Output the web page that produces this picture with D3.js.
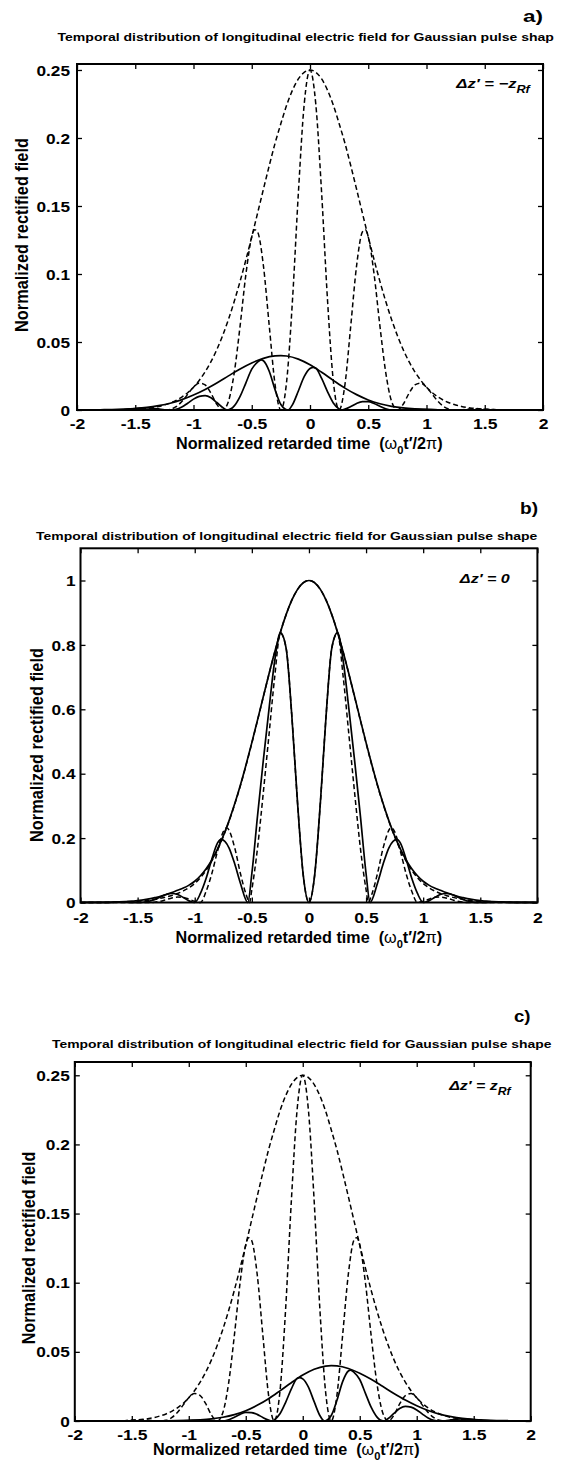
<!DOCTYPE html>
<html>
<head>
<meta charset="utf-8">
<script src="https://cdn.jsdelivr.net/npm/d3@7"></script>
<style>
  body { margin: 0; background: #fff; }
  svg text { font-family: "Liberation Sans", Arial, Helvetica, sans-serif; font-weight: bold; fill: #000; }
</style>
</head>
<body>
<svg id="fig" width="564" height="1463"></svg>
<script>
// ---- values: [normalized time, field] ----
var xTicks = [-2, -1.5, -1, -0.5, 0, 0.5, 1, 1.5, 2];
var xTickLabels = ["-2", "-1.5", "-1", "-0.5", "0", "0.5", "1", "1.5", "2"];
var yTicksSmall = [0, 0.05, 0.1, 0.15, 0.2, 0.25];
var yTickLabelsSmall = ["0", "0.05", "0.1", "0.15", "0.2", "0.25"];
var yTicksB = [0, 0.2, 0.4, 0.6, 0.8, 1];
var yTickLabelsB = ["0", "0.2", "0.4", "0.6", "0.8", "1"];

var titleText = "Temporal distribution of longitudinal electric field for Gaussian pulse shape";
var titleCut = "Temporal distribution of longitudinal electric field for Gaussian pulse shap";

// panel a) dz' = -zRf
var aDashEnv = [[-2,0],[-1.7,0.0001],[-1.6,0.0002],[-1.5,0.0006],[-1.45,0.0009],[-1.4,0.0013],[-1.35,0.0018],[-1.3,0.0026],[-1.25,0.0037],[-1.2,0.0051],[-1.15,0.0070],[-1.1,0.0095],[-1.05,0.0127],[-1,0.0168],[-0.95,0.0219],[-0.9,0.0281],[-0.85,0.0355],[-0.8,0.0444],[-0.75,0.0547],[-0.7,0.0666],[-0.65,0.0799],[-0.6,0.0946],[-0.55,0.1105],[-0.5,0.1273],[-0.45,0.1447],[-0.4,0.1623],[-0.35,0.1796],[-0.3,0.1961],[-0.25,0.2106],[-0.2,0.2242],[-0.15,0.2352],[-0.1,0.2434],[-0.05,0.2483],[0,0.25],[0.05,0.2483],[0.1,0.2434],[0.15,0.2352],[0.2,0.2242],[0.25,0.2106],[0.3,0.1961],[0.35,0.1796],[0.4,0.1623],[0.45,0.1447],[0.5,0.1273],[0.55,0.1105],[0.6,0.0946],[0.65,0.0799],[0.7,0.0666],[0.75,0.0547],[0.8,0.0444],[0.85,0.0355],[0.9,0.0281],[0.95,0.0219],[1,0.0168],[1.05,0.0127],[1.1,0.0095],[1.15,0.0070],[1.2,0.0051],[1.25,0.0037],[1.3,0.0026],[1.35,0.0018],[1.4,0.0013],[1.45,0.0009],[1.5,0.0006],[1.6,0.0002],[1.7,0.0001],[2,0]];
var aDashOsc = [[-2,0],[-1.7,0.0001],[-1.6,0.0002],[-1.5,0.0006],[-1.45,0.0008],[-1.4,0.0009],[-1.35,0.0006],[-1.3,0.0002],[-1.25,0],[-1.2,0.0005],[-1.15,0.0024],[-1.1,0.0062],[-1.05,0.0115],[-1,0.0168],[-0.95,0.0198],[-0.9,0.0184],[-0.85,0.0123],[-0.8,0.0042],[-0.75,0],[-0.7,0.0064],[-0.65,0.0276],[-0.6,0.0619],[-0.55,0.0999],[-0.5,0.1273],[-0.475,0.1326],[-0.45,0.1309],[-0.4,0.1062],[-0.35,0.0621],[-0.3,0.0187],[-0.25,0],[-0.2,0.0214],[-0.15,0.0813],[-0.1,0.1593],[-0.05,0.2246],[0,0.25],[0.05,0.2246],[0.1,0.1593],[0.15,0.0813],[0.2,0.0214],[0.25,0],[0.3,0.0187],[0.35,0.0621],[0.4,0.1062],[0.45,0.1309],[0.475,0.1326],[0.5,0.1273],[0.55,0.0999],[0.6,0.0619],[0.65,0.0276],[0.7,0.0064],[0.75,0],[0.8,0.0042],[0.85,0.0123],[0.9,0.0184],[0.95,0.0198],[1,0.0168],[1.05,0.0115],[1.1,0.0062],[1.15,0.0024],[1.2,0.0005],[1.25,0],[1.3,0.0002],[1.35,0.0006],[1.4,0.0009],[1.45,0.0008],[1.5,0.0006],[1.6,0.0002],[1.7,0.0001],[2,0]];
var aSolidEnv = [[-2,0],[-1.9,0.0001],[-1.8,0.0002],[-1.7,0.0003],[-1.6,0.0006],[-1.5,0.0011],[-1.4,0.0019],[-1.3,0.0032],[-1.2,0.0050],[-1.1,0.0076],[-1,0.0110],[-0.9,0.0151],[-0.8,0.0199],[-0.7,0.0251],[-0.6,0.0302],[-0.5,0.0346],[-0.4,0.0380],[-0.3,0.0398],[-0.25,0.0400],[-0.2,0.0397],[-0.1,0.0374],[0,0.0332],[0.1,0.0277],[0.2,0.0218],[0.3,0.0161],[0.4,0.0113],[0.5,0.0074],[0.6,0.0046],[0.7,0.0027],[0.8,0.0015],[0.9,0.0008],[1,0.0004],[1.1,0.0002],[1.2,0.0001],[1.4,0],[2,0]];
var aSolidOsc = [[-2,0],[-1.7,0],[-1.6,0.0002],[-1.55,0.0006],[-1.5,0.0010],[-1.45,0.0014],[-1.4,0.0015],[-1.35,0.0013],[-1.3,0.0008],[-1.25,0.0002],[-1.2,0],[-1.15,0.0005],[-1.1,0.0022],[-1.05,0.0050],[-1,0.0080],[-0.95,0.0100],[-0.9,0.0106],[-0.85,0.0090],[-0.8,0.0055],[-0.75,0.0018],[-0.71,0],[-0.65,0.0030],[-0.6,0.0100],[-0.55,0.0200],[-0.5,0.0300],[-0.45,0.0352],[-0.42,0.0368],[-0.4,0.0362],[-0.35,0.0285],[-0.3,0.0150],[-0.25,0.0040],[-0.19,0],[-0.15,0.0040],[-0.1,0.0140],[-0.05,0.0245],[0,0.0305],[0.03,0.0314],[0.05,0.0308],[0.1,0.0232],[0.15,0.0135],[0.2,0.0052],[0.25,0.0008],[0.27,0],[0.3,0.0006],[0.35,0.0025],[0.4,0.0048],[0.45,0.0061],[0.5,0.0062],[0.55,0.0048],[0.6,0.0027],[0.65,0.0009],[0.71,0],[0.8,0.0003],[0.9,0.0005],[1,0.0003],[1.1,0.0001],[1.2,0],[2,0]];

// panel b) dz' = 0
var bSolidEnv = [[-2,0],[-1.9,0.0002],[-1.8,0.0005],[-1.7,0.0013],[-1.6,0.003],[-1.55,0.004],[-1.5,0.006],[-1.45,0.008],[-1.4,0.011],[-1.35,0.015],[-1.3,0.019],[-1.25,0.025],[-1.2,0.031],[-1.15,0.038],[-1.1,0.045],[-1.05,0.054],[-1,0.066],[-0.95,0.083],[-0.9,0.105],[-0.85,0.1323],[-0.8,0.1666],[-0.75,0.207],[-0.7,0.2536],[-0.65,0.3064],[-0.6,0.3649],[-0.55,0.4287],[-0.5,0.4966],[-0.45,0.5672],[-0.4,0.6389],[-0.35,0.7096],[-0.3,0.7773],[-0.25,0.8395],[-0.2,0.894],[-0.15,0.9389],[-0.1,0.9724],[-0.05,0.993],[0,1],[0.05,0.993],[0.1,0.9724],[0.15,0.9389],[0.2,0.894],[0.25,0.8395],[0.3,0.7773],[0.35,0.7096],[0.4,0.6389],[0.45,0.5672],[0.5,0.4966],[0.55,0.4287],[0.6,0.3649],[0.65,0.3064],[0.7,0.2536],[0.75,0.207],[0.8,0.1666],[0.85,0.1323],[0.9,0.105],[0.95,0.083],[1,0.066],[1.05,0.054],[1.1,0.045],[1.15,0.038],[1.2,0.031],[1.25,0.025],[1.3,0.019],[1.35,0.015],[1.4,0.011],[1.45,0.008],[1.5,0.006],[1.55,0.004],[1.6,0.003],[1.7,0.0013],[1.8,0.0005],[1.9,0.0002],[2,0]];
var bSolidOsc = [[-2,0],[-1.8,0.0003],[-1.7,0.0010],[-1.6,0.0008],[-1.5,0],[-1.45,0.0008],[-1.4,0.0038],[-1.35,0.0098],[-1.3,0.0172],[-1.25,0.0250],[-1.2,0.0280],[-1.15,0.0249],[-1.1,0.0155],[-1.05,0.0050],[-1,0],[-0.95,0.028],[-0.9,0.075],[-0.85,0.135],[-0.8,0.185],[-0.77,0.196],[-0.7,0.170],[-0.65,0.120],[-0.6,0.060],[-0.535,0],[-0.5,0.09],[-0.45,0.27],[-0.4,0.44],[-0.35,0.60],[-0.3,0.75],[-0.25,0.838],[-0.2,0.79],[-0.15,0.58],[-0.1,0.31],[-0.05,0.085],[0,0],[0.05,0.085],[0.1,0.31],[0.15,0.58],[0.2,0.79],[0.25,0.838],[0.3,0.75],[0.35,0.60],[0.4,0.44],[0.45,0.27],[0.5,0.09],[0.535,0],[0.6,0.060],[0.65,0.120],[0.7,0.170],[0.77,0.196],[0.8,0.185],[0.85,0.135],[0.9,0.075],[0.95,0.028],[1,0],[1.05,0.0050],[1.1,0.0155],[1.15,0.0249],[1.2,0.0280],[1.25,0.0250],[1.3,0.0172],[1.35,0.0098],[1.4,0.0038],[1.45,0.0008],[1.5,0],[1.6,0.0008],[1.7,0.0010],[1.8,0.0003],[2,0]];
var bDashEnv = [[-2,0],[-1.8,0.0002],[-1.7,0.0007],[-1.6,0.0017],[-1.5,0.0035],[-1.45,0.005],[-1.4,0.007],[-1.35,0.0095],[-1.3,0.013],[-1.25,0.017],[-1.2,0.022],[-1.15,0.028],[-1.1,0.036],[-1.05,0.046],[-1,0.059],[-0.95,0.077],[-0.9,0.100],[-0.85,0.129],[-0.8,0.164],[-0.75,0.205],[-0.7,0.252],[-0.65,0.305],[-0.6,0.363],[-0.55,0.427],[-0.5,0.495],[-0.45,0.566],[-0.4,0.638],[-0.35,0.709],[-0.3,0.777],[-0.25,0.8395],[-0.2,0.894],[-0.15,0.939],[-0.1,0.972],[-0.05,0.993],[0,1],[0.05,0.993],[0.1,0.972],[0.15,0.939],[0.2,0.894],[0.25,0.8395],[0.3,0.777],[0.35,0.709],[0.4,0.638],[0.45,0.566],[0.5,0.495],[0.55,0.427],[0.6,0.363],[0.65,0.305],[0.7,0.252],[0.75,0.205],[0.8,0.164],[0.85,0.129],[0.9,0.100],[0.95,0.077],[1,0.059],[1.05,0.046],[1.1,0.036],[1.15,0.028],[1.2,0.022],[1.25,0.017],[1.3,0.013],[1.35,0.0095],[1.4,0.007],[1.45,0.005],[1.5,0.0035],[1.6,0.0017],[1.7,0.0007],[1.8,0.0002],[2,0]];
var bDashOsc = [[-2,0],[-1.4,0],[-1.35,0.001],[-1.3,0.004],[-1.25,0.009],[-1.2,0.014],[-1.15,0.017],[-1.1,0.016],[-1.05,0.010],[-1,0.004],[-0.95,0],[-0.9,0.035],[-0.85,0.09],[-0.8,0.16],[-0.75,0.22],[-0.72,0.232],[-0.65,0.17],[-0.6,0.09],[-0.55,0.025],[-0.52,0],[-0.5,0.04],[-0.45,0.17],[-0.4,0.34],[-0.35,0.52],[-0.3,0.70],[-0.25,0.836],[-0.2,0.79],[-0.15,0.58],[-0.1,0.31],[-0.05,0.085],[0,0],[0.05,0.085],[0.1,0.31],[0.15,0.58],[0.2,0.79],[0.25,0.836],[0.3,0.70],[0.35,0.52],[0.4,0.34],[0.45,0.17],[0.5,0.04],[0.52,0],[0.55,0.025],[0.6,0.09],[0.65,0.17],[0.72,0.232],[0.75,0.22],[0.8,0.16],[0.85,0.09],[0.9,0.035],[0.95,0],[1,0.004],[1.05,0.010],[1.1,0.016],[1.15,0.017],[1.2,0.014],[1.25,0.009],[1.3,0.004],[1.35,0.001],[1.4,0],[2,0]];

// panel c) dz' = zRf
var cDashEnv = [[-2,0],[-1.7,0.0001],[-1.6,0.0002],[-1.5,0.0006],[-1.45,0.0009],[-1.4,0.0013],[-1.35,0.0018],[-1.3,0.0026],[-1.25,0.0037],[-1.2,0.0051],[-1.15,0.0070],[-1.1,0.0095],[-1.05,0.0127],[-1,0.0168],[-0.95,0.0219],[-0.9,0.0281],[-0.85,0.0355],[-0.8,0.0444],[-0.75,0.0547],[-0.7,0.0666],[-0.65,0.0799],[-0.6,0.0946],[-0.55,0.1105],[-0.5,0.1273],[-0.45,0.1447],[-0.4,0.1623],[-0.35,0.1796],[-0.3,0.1961],[-0.25,0.2106],[-0.2,0.2242],[-0.15,0.2352],[-0.1,0.2434],[-0.05,0.2483],[0,0.25],[0.05,0.2483],[0.1,0.2434],[0.15,0.2352],[0.2,0.2242],[0.25,0.2106],[0.3,0.1961],[0.35,0.1796],[0.4,0.1623],[0.45,0.1447],[0.5,0.1273],[0.55,0.1105],[0.6,0.0946],[0.65,0.0799],[0.7,0.0666],[0.75,0.0547],[0.8,0.0444],[0.85,0.0355],[0.9,0.0281],[0.95,0.0219],[1,0.0168],[1.05,0.0127],[1.1,0.0095],[1.15,0.0070],[1.2,0.0051],[1.25,0.0037],[1.3,0.0026],[1.35,0.0018],[1.4,0.0013],[1.45,0.0009],[1.5,0.0006],[1.6,0.0002],[1.7,0.0001],[2,0]];
var cDashOsc = [[-2,0],[-1.7,0.0001],[-1.6,0.0002],[-1.5,0.0006],[-1.45,0.0008],[-1.4,0.0009],[-1.35,0.0006],[-1.3,0.0002],[-1.25,0],[-1.2,0.0005],[-1.15,0.0024],[-1.1,0.0062],[-1.05,0.0115],[-1,0.0168],[-0.95,0.0198],[-0.9,0.0184],[-0.85,0.0123],[-0.8,0.0042],[-0.75,0],[-0.7,0.0064],[-0.65,0.0276],[-0.6,0.0619],[-0.55,0.0999],[-0.5,0.1273],[-0.475,0.1326],[-0.45,0.1309],[-0.4,0.1062],[-0.35,0.0621],[-0.3,0.0187],[-0.25,0],[-0.2,0.0214],[-0.15,0.0813],[-0.1,0.1593],[-0.05,0.2246],[0,0.25],[0.05,0.2246],[0.1,0.1593],[0.15,0.0813],[0.2,0.0214],[0.25,0],[0.3,0.0187],[0.35,0.0621],[0.4,0.1062],[0.45,0.1309],[0.475,0.1326],[0.5,0.1273],[0.55,0.0999],[0.6,0.0619],[0.65,0.0276],[0.7,0.0064],[0.75,0],[0.8,0.0042],[0.85,0.0123],[0.9,0.0184],[0.95,0.0198],[1,0.0168],[1.05,0.0115],[1.1,0.0062],[1.15,0.0024],[1.2,0.0005],[1.25,0],[1.3,0.0002],[1.35,0.0006],[1.4,0.0009],[1.45,0.0008],[1.5,0.0006],[1.6,0.0002],[1.7,0.0001],[2,0]];
var cSolidEnv = [[-2,0],[-1.4,0],[-1.2,0.0001],[-1.1,0.0002],[-1,0.0004],[-0.9,0.0008],[-0.8,0.0015],[-0.7,0.0027],[-0.6,0.0046],[-0.5,0.0074],[-0.4,0.0113],[-0.3,0.0161],[-0.2,0.0218],[-0.1,0.0277],[0,0.0332],[0.1,0.0374],[0.2,0.0397],[0.25,0.0400],[0.3,0.0398],[0.4,0.0380],[0.5,0.0346],[0.6,0.0302],[0.7,0.0251],[0.8,0.0199],[0.9,0.0151],[1,0.0110],[1.1,0.0076],[1.2,0.0050],[1.3,0.0032],[1.4,0.0019],[1.5,0.0011],[1.6,0.0006],[1.7,0.0003],[1.8,0.0002],[1.9,0.0001],[2,0]];
var cSolidOsc = [[-2,0],[-1.2,0],[-1.1,0.0001],[-1,0.0003],[-0.9,0.0005],[-0.8,0.0003],[-0.71,0],[-0.65,0.0009],[-0.6,0.0027],[-0.55,0.0048],[-0.5,0.0062],[-0.45,0.0061],[-0.4,0.0048],[-0.35,0.0025],[-0.3,0.0006],[-0.27,0],[-0.25,0.0008],[-0.2,0.0052],[-0.15,0.0135],[-0.1,0.0232],[-0.05,0.0308],[-0.03,0.0314],[0,0.0305],[0.05,0.0245],[0.1,0.0140],[0.15,0.0040],[0.19,0],[0.25,0.0040],[0.3,0.0150],[0.35,0.0285],[0.4,0.0362],[0.42,0.0368],[0.45,0.0352],[0.5,0.0300],[0.55,0.0200],[0.6,0.0100],[0.65,0.0030],[0.71,0],[0.75,0.0018],[0.8,0.0055],[0.85,0.0090],[0.9,0.0106],[0.95,0.0100],[1,0.0080],[1.05,0.0050],[1.1,0.0022],[1.15,0.0005],[1.2,0],[1.25,0.0002],[1.3,0.0008],[1.35,0.0013],[1.4,0.0015],[1.45,0.0014],[1.5,0.0010],[1.55,0.0006],[1.6,0.0002],[1.7,0],[2,0]];

// ---- layout of the three stacked panels (pixels) ----
var panels = [
  { letter: "a)", title: titleCut, note: "\u0394z\u2032 = \u2212z", noteSub: "Rf",
    x0: 77, x1: 543, y0: 64, y1: 410, ymax: 0.2544,
    yTicks: yTicksSmall, yLabels: yTickLabelsSmall,
    dashed: [aDashEnv, aDashOsc], solid: [aSolidEnv, aSolidOsc],
    titleX: [57.5, 554], titleY: 41.5, letterX: [523, 543], letterY: 22.5,
    ylab: [22, 235, 194], xlabX: [176, 443], xlabY: 449.5,
    noteX: [455, 532], noteY: 88.5, tickDy: 19, yGap: 7 },
  { letter: "b)", title: titleText, note: "\u0394z\u2032 = 0", noteSub: null,
    x0: 80.5, x1: 537.4, y0: 548.3, y1: 902.5, ymax: 1.1,
    yTicks: yTicksB, yLabels: yTickLabelsB,
    dashed: [bDashEnv, bDashOsc], solid: [bSolidEnv, bSolidOsc],
    titleX: [36, 537.7], titleY: 540, letterX: [520, 538], letterY: 514,
    ylab: [37, 745, 194], xlabX: [175.5, 442.5], xlabY: 943.5,
    noteX: [458.6, 510.8], noteY: 583.5, tickDy: 20.5, yGap: 5 },
  { letter: "c)", title: titleText, note: "\u0394z\u2032 = z", noteSub: "Rf",
    x0: 74.8, x1: 530.7, y0: 1062, y1: 1421, ymax: 0.2596,
    yTicks: yTicksSmall, yLabels: yTickLabelsSmall,
    dashed: [cDashEnv, cDashOsc], solid: [cSolidEnv, cSolidOsc],
    titleX: [52, 552], titleY: 1048, letterX: [514, 530.6], letterY: 1022,
    ylab: [29, 1248, 193], xlabX: [153, 420], xlabY: 1455,
    noteX: [448, 512.6], noteY: 1090, tickDy: 19, yGap: 5 }
];

var svg = d3.select("#fig");

// stretch a text horizontally so its box spans [xa, xb]
function fitX(sel, xa, xb) {
  var b = sel.node().getBBox();
  var s = (xb - xa) / b.width;
  sel.attr("transform", "translate(" + xa + ",0) scale(" + s + ",1) translate(" + (-b.x) + ",0)");
}

panels.forEach(function(p) {
  var g = svg.append("g");
  var x = d3.scaleLinear().domain([-2, 2]).range([p.x0, p.x1]);
  var y = d3.scaleLinear().domain([0, p.ymax]).range([p.y1, p.y0]);
  var line = d3.line()
    .x(function(d) { return x(d[0]); })
    .y(function(d) { return y(d[1]); })
    .curve(d3.curveMonotoneX);

  // curves
  p.dashed.forEach(function(s) {
    g.append("path").datum(s)
      .attr("d", line)
      .attr("fill", "none")
      .attr("stroke", "#000")
      .attr("stroke-width", 1.5)
      .attr("stroke-dasharray", "5,3");
  });
  p.solid.forEach(function(s) {
    g.append("path").datum(s)
      .attr("d", line)
      .attr("fill", "none")
      .attr("stroke", "#000")
      .attr("stroke-width", 1.7);
  });

  // axes, ticks pointing inward on all four sides
  var bottom = g.append("g").attr("transform", "translate(0," + p.y1 + ")")
    .call(d3.axisBottom(x).tickValues(xTicks)
      .tickFormat(function(d, i) { return xTickLabels[i]; })
      .tickSizeInner(-5).tickSizeOuter(0));
  var top = g.append("g").attr("transform", "translate(0," + p.y0 + ")")
    .call(d3.axisTop(x).tickValues(xTicks).tickFormat("").tickSizeInner(-5).tickSizeOuter(0));
  var left = g.append("g").attr("transform", "translate(" + p.x0 + ",0)")
    .call(d3.axisLeft(y).tickValues(p.yTicks)
      .tickFormat(function(d, i) { return p.yLabels[i]; })
      .tickSizeInner(-5).tickSizeOuter(0));
  var right = g.append("g").attr("transform", "translate(" + p.x1 + ",0)")
    .call(d3.axisRight(y).tickValues(p.yTicks).tickFormat("").tickSizeInner(-5).tickSizeOuter(0));

  [bottom, top, left, right].forEach(function(a) {
    a.attr("font-size", null).attr("font-family", null);
    a.select(".domain").remove();
    a.selectAll(".tick line").attr("stroke", "#000").attr("stroke-width", 1.3);
  });

  bottom.selectAll("text")
    .attr("y", 0).attr("dy", 0)
    .style("font-size", "15px")
    .attr("transform", "translate(0," + p.tickDy + ") scale(1.17,1)");
  left.selectAll("text")
    .attr("x", 0).attr("dy", "0.34em")
    .style("font-size", "15px")
    .attr("transform", "translate(" + (-p.yGap) + ",0) scale(1.15,1)");

  // frame
  g.append("rect")
    .attr("x", p.x0).attr("y", p.y0)
    .attr("width", p.x1 - p.x0).attr("height", p.y1 - p.y0)
    .attr("fill", "none").attr("stroke", "#000").attr("stroke-width", 2);

  // title and panel letter
  var t = g.append("text").attr("x", 0).attr("y", p.titleY)
    .style("font-size", "11.5px").text(p.title);
  fitX(t, p.titleX[0], p.titleX[1]);

  var l = g.append("text").attr("x", 0).attr("y", p.letterY)
    .style("font-size", "17px").text(p.letter);
  fitX(l, p.letterX[0], p.letterX[1]);

  // y label
  var yl = g.append("text")
    .attr("text-anchor", "middle").attr("dominant-baseline", "central")
    .style("font-size", "16px").text("Normalized rectified field");
  var yw = yl.node().getComputedTextLength();
  yl.attr("transform", "translate(" + p.ylab[0] + "," + p.ylab[1] + ") rotate(-90) scale(" + (p.ylab[2] / yw) + ",1.1)");

  // x label
  var xl = g.append("text").attr("x", 0).attr("y", p.xlabY)
    .style("font-size", "16px").style("white-space", "pre");
  xl.append("tspan").text("Normalized retarded time  (");
  xl.append("tspan").style("font-weight", "normal").text("\u03c9");
  xl.append("tspan").attr("dy", 5).style("font-size", "11px").text("0");
  xl.append("tspan").attr("dy", -5).text("t\u2032/2");
  xl.append("tspan").style("font-weight", "normal").text("\u03c0");
  xl.append("tspan").text(")");
  fitX(xl, p.xlabX[0], p.xlabX[1]);

  // annotation
  var nt = g.append("text").attr("x", 0).attr("y", p.noteY)
    .style("font-size", "13px").style("font-style", "italic").style("white-space", "pre");
  nt.append("tspan").text(p.note);
  if (p.noteSub) {
    nt.append("tspan").attr("dy", 5).style("font-size", "10px").text(p.noteSub);
  }
  fitX(nt, p.noteX[0], p.noteX[1]);
});
</script>
</body>
</html>
